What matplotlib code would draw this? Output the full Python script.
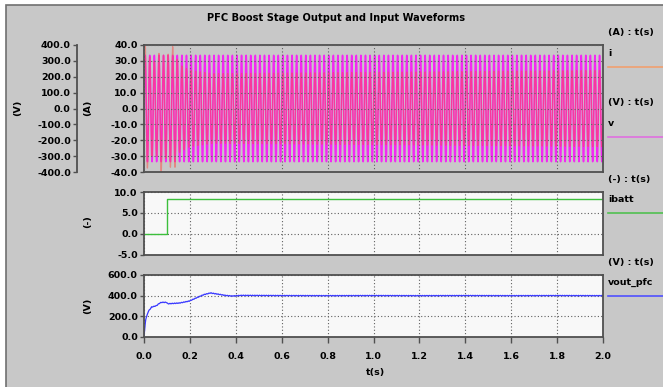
import numpy as np
import matplotlib
matplotlib.use('Agg')
import matplotlib.pyplot as plt
from matplotlib.patches import Rectangle
from matplotlib.lines import Line2D

# --- data ---
t_end = 2.0
f_line = 50.0          # Hz, line frequency
v_peak = 335.0         # V, input voltage peak

# current envelope (A) at given times
i_env_t = [0.0, 0.01, 0.03, 0.06, 0.073, 0.09, 0.115, 0.13, 0.15, 0.2, 0.3, 2.0]
i_env_a = [45, 40, 30, 30, 42, 30, 37, 40, 28, 24, 22, 24]

# battery current step
ibatt_t = [0.0, 0.1, 0.1, 2.0]
ibatt_v = [0.0, 0.0, 8.3, 8.3]

# PFC output voltage
vout_t = [0.0, 0.007, 0.019, 0.033, 0.054, 0.069, 0.076, 0.097, 0.104, 0.154, 0.197,
          0.226, 0.261, 0.29, 0.311, 0.354, 0.383, 0.426, 0.6, 0.8, 1.0, 1.2, 1.4, 1.6, 1.8, 2.0]
vout_v = [0, 168, 248, 290, 303, 329, 335, 335, 322, 329, 348,
          377, 410, 426, 419, 403, 397, 403, 401, 400, 401, 400, 401, 400, 401, 400]
vout_ripple = 3.0

xticks = [0.0, 0.2, 0.4, 0.6, 0.8, 1.0, 1.2, 1.4, 1.6, 1.8, 2.0]

t = np.linspace(0, t_end, 20001)
v_in = v_peak * np.sin(2 * np.pi * f_line * t)
i_in = np.interp(t, i_env_t, i_env_a) * np.sin(2 * np.pi * f_line * t)
vout = np.interp(t, vout_t, vout_v) + vout_ripple * np.sin(4 * np.pi * f_line * t)

plt.rcParams['font.family'] = ['DejaVu Sans']
plt.rcParams['font.size'] = 6.8
plt.rcParams['font.weight'] = 'bold'

W, H = 663, 387
fig = plt.figure(figsize=(W / 100, H / 100), dpi=100, facecolor='white')
fig.patches.append(Rectangle((6 / W, -0.01), 1.01 - 6 / W, 1.01 - 5 / H, transform=fig.transFigure,
                             facecolor='#c8c8c8', edgecolor='#707070', lw=1.2, zorder=-10))

def px_axes(x0, y0, x1, y1):
    return fig.add_axes([x0 / W, 1 - y1 / H, (x1 - x0) / W, (y1 - y0) / H])

spine_c = '#505050'
grid_kw = dict(color='#606060', lw=0.8, linestyle=(0, (1, 2)))

def style(ax):
    for s in ax.spines.values():
        s.set_color(spine_c)
        s.set_linewidth(1.3)
    ax.set_xlim(0, t_end)
    ax.set_xticks(xticks)
    ax.grid(True, **grid_kw)
    ax.tick_params(axis='y', direction='out', length=3, width=1, color=spine_c, pad=1.5)
    ax.tick_params(axis='x', direction='out', length=4, width=1, color=spine_c, pad=7)
    ax.yaxis.set_major_formatter(matplotlib.ticker.FormatStrFormatter('%.1f'))

# top panel
ax1 = px_axes(144, 45, 603, 172)
ax_v = ax1.twinx()
ax_v.set_facecolor('#f8f8f8')
ax1.set_zorder(ax_v.get_zorder() + 1)
ax1.patch.set_visible(False)
ax1.set_axisbelow(False)
style(ax1)
ax1.set_ylim(-40, 40)
ax1.set_yticks(np.arange(-40, 41, 10))
ax1.tick_params(axis='x', length=0, labelbottom=False)

ax_v.set_ylim(-400, 400)
ax_v.set_yticks(np.arange(-400, 401, 100))
ax_v.yaxis.set_ticks_position('left')
ax_v.yaxis.set_label_position('left')
ax_v.spines['left'].set_position(('axes', (77 - 144) / 459))
for s in ['top', 'right', 'bottom']:
    ax_v.spines[s].set_visible(False)
ax_v.spines['left'].set_color(spine_c)
ax_v.spines['left'].set_linewidth(1.3)
ax_v.tick_params(axis='y', direction='out', length=3, width=1, color=spine_c, pad=1.5)
ax_v.yaxis.set_major_formatter(matplotlib.ticker.FormatStrFormatter('%.1f'))

ax_v.plot(t, v_in, color='#ff00ff', lw=1.15, alpha=0.8)
ax1.plot(t, i_in, color='#ff4a40', lw=0.9, alpha=0.5)

# middle panel
ax2 = px_axes(144, 192, 603, 255)
ax2.set_facecolor('#f8f8f8')
style(ax2)
ax2.set_ylim(-5, 10)
ax2.set_yticks([-5, 0, 5, 10])
ax2.tick_params(axis='x', length=0, labelbottom=False)
ax2.plot(ibatt_t, ibatt_v, color='#3cbf3c', lw=1)

# bottom panel
ax3 = px_axes(144, 275, 603, 337)
ax3.set_facecolor('#f8f8f8')
style(ax3)
ax3.set_ylim(0, 600)
ax3.set_yticks([0, 200, 400, 600])
ax3.xaxis.set_major_formatter(matplotlib.ticker.FormatStrFormatter('%.1f'))
ax3.plot(t, vout, color='#3a3aff', lw=0.9)

# texts
fig.text(336 / W, 1 - 18 / H, 'PFC Boost Stage Output and Input Waveforms', ha='center', va='center', fontsize=7.1)
fig.text(375 / W, 1 - 373 / H, 't(s)', ha='center', va='center')
for x, y, s in [(18, 108, '(V)'), (88, 108, '(A)'), (88, 222, '(-)'), (88, 306, '(V)')]:
    fig.text(x / W, 1 - y / H, s, ha='center', va='center', rotation=90)

legend = [(33, '(A) : t(s)'), (53, 'i'), (103, '(V) : t(s)'), (124, 'v'),
          (179, '(-) : t(s)'), (199, 'ibatt'), (262, '(V) : t(s)'), (282, 'vout_pfc')]
for y, s in legend:
    fig.text(608 / W, 1 - y / H, s, ha='left', va='center')
for y, c in [(67, '#f0a070'), (137, '#e070e0'), (213, '#50c050'), (296, '#5050ff')]:
    fig.lines.append(Line2D([608 / W, 1.0], [1 - y / H] * 2, transform=fig.transFigure, color=c, lw=1.2))

fig.savefig('out.png', dpi=100, facecolor=fig.get_facecolor())
